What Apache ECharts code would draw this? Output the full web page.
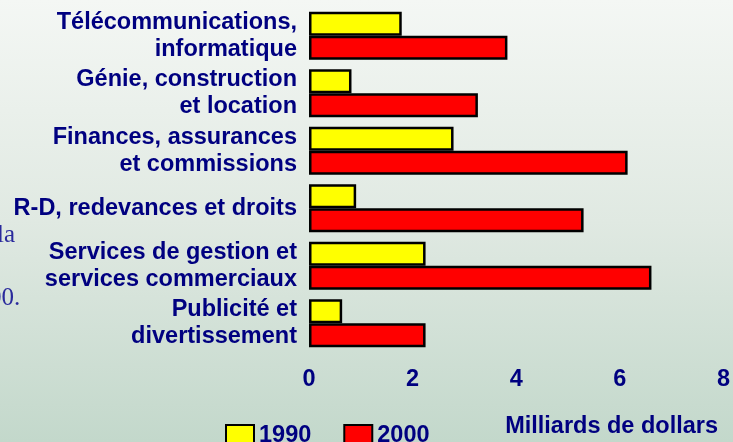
<!DOCTYPE html>
<html>
<head>
<meta charset="utf-8">
<script src="https://cdn.jsdelivr.net/npm/echarts@6/dist/echarts.min.js"></script>
<style>
  html, body { margin: 0; padding: 0; }
  #chart { width: 733px; height: 442px; }
</style>
</head>
<body>
<div id="chart"></div>
<script>
const categories = [
  "Télécommunications,\ninformatique",
  "Génie, construction\net location",
  "Finances, assurances\net commissions",
  "R-D, redevances et droits",
  "Services de gestion et\nservices commerciaux",
  "Publicité et\ndivertissement",
];
const values1990 = [1.79, 0.82, 2.79, 0.91, 2.25, 0.64];
const values2000 = [3.83, 3.26, 6.15, 5.3, 6.61, 2.25];
const xTicks = [0, 2, 4, 6, 8];

const navy = "#000080";
const font = "Liberation Sans, Arial, sans-serif";

const chart = echarts.init(document.getElementById("chart"));
const option = {
  backgroundColor: new echarts.graphic.LinearGradient(0, 0, 0, 1, [
    { offset: 0, color: "#f4f7f4" },
    { offset: 0.5, color: "#e0e9e2" },
    { offset: 1, color: "#c3d8cb" },
  ]),
  animation: false,
  grid: {
    left: 309,
    right: 9,
    top: 7,
    height: 345,
  },
  legend: {
    data: ["1990", "2000"],
    left: 225,
    top: 424,
    padding: 0,
    itemWidth: 28,
    itemHeight: 22,
    itemGap: 32,
    icon: "rect",
    textStyle: {
      color: navy,
      fontWeight: "bold",
      fontSize: 23.5,
      fontFamily: font,
    },
  },
  graphic: [
    {
      type: "text",
      right: 15,
      top: 415,
      style: {
        text: "Milliards de dollars",
        fill: navy,
        font: "bold 23.5px " + font,
      },
    },
    {
      type: "text",
      left: -3,
      top: 223,
      style: {
        text: "la",
        fill: "#2a2a9c",
        font: "25px Liberation Serif, serif",
      },
    },
    {
      type: "text",
      left: -11,
      top: 286,
      style: {
        text: "00.",
        fill: "#2a2a9c",
        font: "25px Liberation Serif, serif",
      },
    },
  ],
  xAxis: {
    type: "value",
    min: xTicks[0],
    max: xTicks[xTicks.length - 1],
    interval: 2,
    splitLine: { show: false },
    axisLine: { show: false },
    axisTick: { show: false },
    axisLabel: {
      margin: 16,
      color: navy,
      fontWeight: "bold",
      fontSize: 23.5,
      fontFamily: font,
    },
  },
  yAxis: {
    type: "category",
    data: categories,
    inverse: true,
    axisLine: { show: false },
    axisTick: { show: false },
    axisLabel: {
      margin: 12,
      color: navy,
      fontWeight: "bold",
      fontSize: 23.5,
      lineHeight: 27,
      fontFamily: font,
    },
  },
  series: [
    {
      name: "1990",
      type: "bar",
      data: values1990,
      barWidth: 24,
      barGap: "0%",
      itemStyle: { color: "#ffff00", borderColor: "#000", borderWidth: 2.5 },
    },
    {
      name: "2000",
      type: "bar",
      data: values2000,
      barWidth: 24,
      barGap: "0%",
      itemStyle: { color: "#ff0000", borderColor: "#000", borderWidth: 2.5 },
    },
  ],
};
chart.setOption(option);
</script>
</body>
</html>
